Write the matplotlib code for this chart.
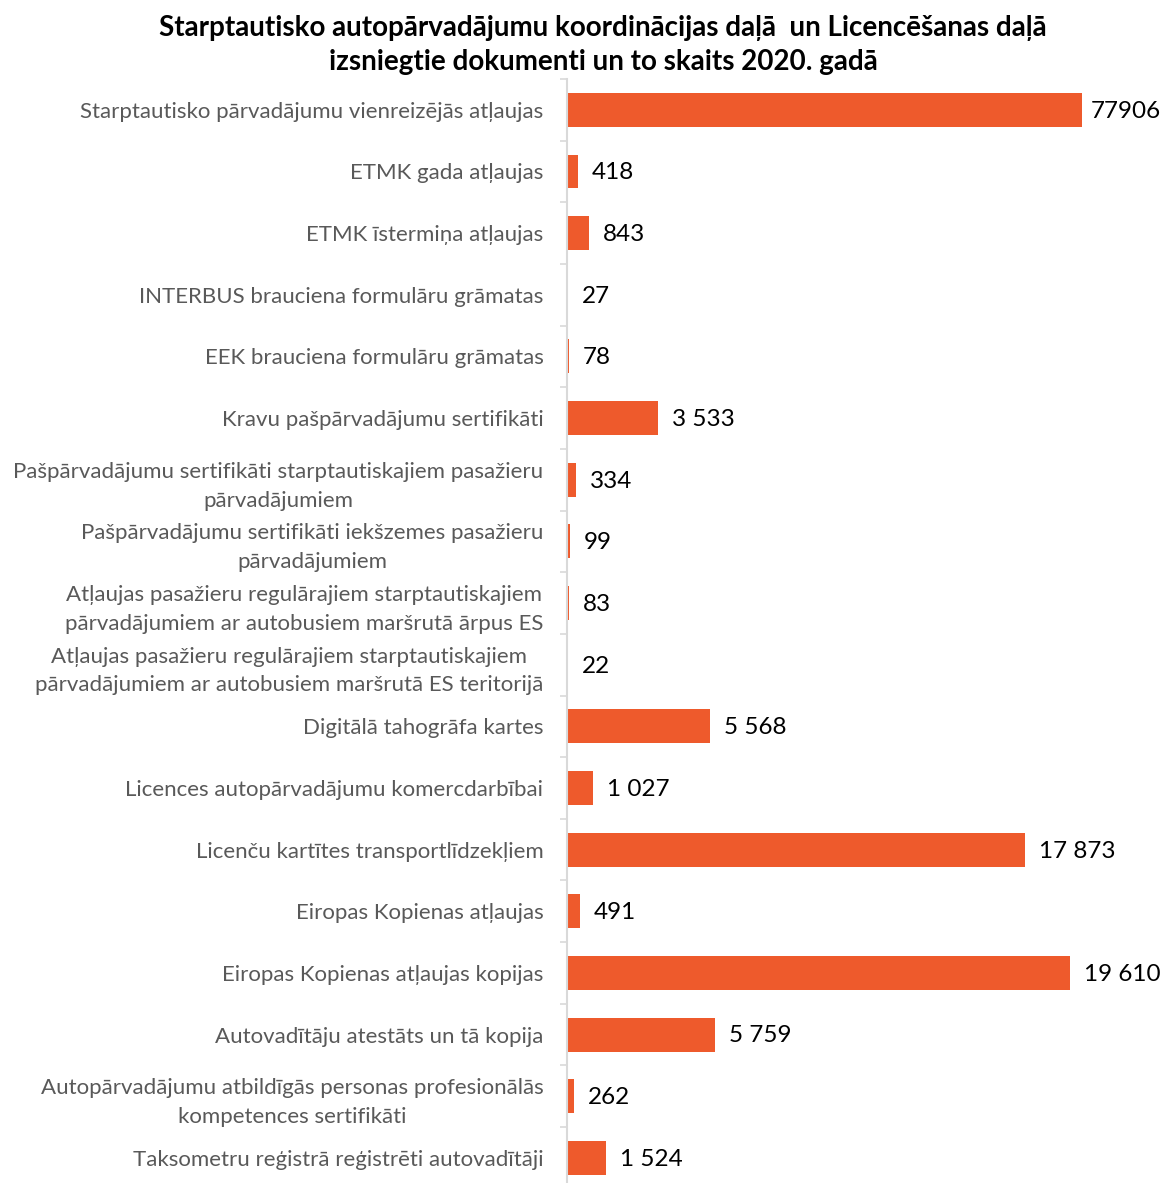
import matplotlib.pyplot as plt
import numpy as np

categories = [
    'Starptautisko pārvadājumu vienreizējās atļaujas',
    'ETMK gada atļaujas',
    'ETMK īstermiņa atļaujas',
    'INTERBUS brauciena formulāru grāmatas',
    'EEK brauciena formulāru grāmatas',
    'Kravu pašpārvadājumu sertifikāti',
    'Pašpārvadājumu sertifikāti starptautiskajiem pasažieru\npārvadājumiem',
    'Pašpārvadājumu sertifikāti iekšzemes pasažieru\npārvadājumiem',
    'Atļaujas pasažieru regulārajiem starptautiskajiem\npārvadājumiem ar autobusiem maršrutā ārpus ES',
    'Atļaujas pasažieru regulārajiem starptautiskajiem\npārvadājumiem ar autobusiem maršrutā ES teritorijā',
    'Digitālā tahogrāfa kartes',
    'Licences autopārvadājumu komercdarbībai',
    'Licenču kartītes transportlīdzekļiem',
    'Eiropas Kopienas atļaujas',
    'Eiropas Kopienas atļaujas kopijas',
    'Autovadītāju atestāts un tā kopija',
    'Autopārvadājumu atbildīgās personas profesionālās\nkompetences sertifikāti',
    'Taksometru reģistrā reģistrēti autovadītāji',
]
values = [77906, 418, 843, 27, 78, 3533, 334, 99, 83, 22,
          5568, 1027, 17873, 491, 19610, 5759, 262, 1524]
value_labels = ['77906', '418', '843', '27', '78', '3 533', '334', '99', '83', '22',
                '5 568', '1 027', '17 873', '491', '19 610', '5 759', '262', '1 524']

plt.rcParams['font.family'] = ['Lato', 'DejaVu Sans']

W, H = 1166, 1183
fig = plt.figure(figsize=(W / 100, H / 100), dpi=100)
top_px = 79
spacing = 61.65
n = len(categories)
bottom_px = top_px + spacing * n
ax = fig.add_axes([567 / W, 1 - bottom_px / H, (1082 - 567) / W, spacing * n / H])

xmax = 20080
y = np.arange(n)
ax.barh(y, values, height=0.55, color='#EE5A2C')
ax.set_xlim(0, xmax)
ax.set_ylim(n - 0.5, -0.5)

for yi, v, lab in zip(y, values, value_labels):
    ax.annotate(lab, (min(v, xmax), yi), xytext=(6 if v > xmax else 10, -1),
                textcoords='offset points', ha='left', va='center',
                fontsize=17.5, color='#000000', annotation_clip=False)

ax.set_yticks(y)
ax.set_yticklabels(categories, fontsize=16, color='#595959', ha='right',
                   linespacing=1.55)
ax.tick_params(axis='y', which='major', length=0, pad=17)
ax.set_yticks(np.arange(n + 1) - 0.5, minor=True)
ax.tick_params(axis='y', which='minor', length=5, color='#D9D9D9', width=1.2)
for t in ax.get_yticklabels():
    t.set_multialignment('center')

ax.set_xticks([])
for s in ['top', 'right', 'bottom']:
    ax.spines[s].set_visible(False)
ax.spines['left'].set_color('#D9D9D9')
ax.spines['left'].set_linewidth(1.5)

fig.text(603 / W, 1 - 45 / H,
         'Starptautisko autopārvadājumu koordinācijas daļā  un Licencēšanas daļā\nizsniegtie dokumenti un to skaits 2020. gadā',
         ha='center', va='center', fontsize=20, fontweight='bold', color='#000000',
         linespacing=1.4)

fig.savefig('out.png', dpi=100)
